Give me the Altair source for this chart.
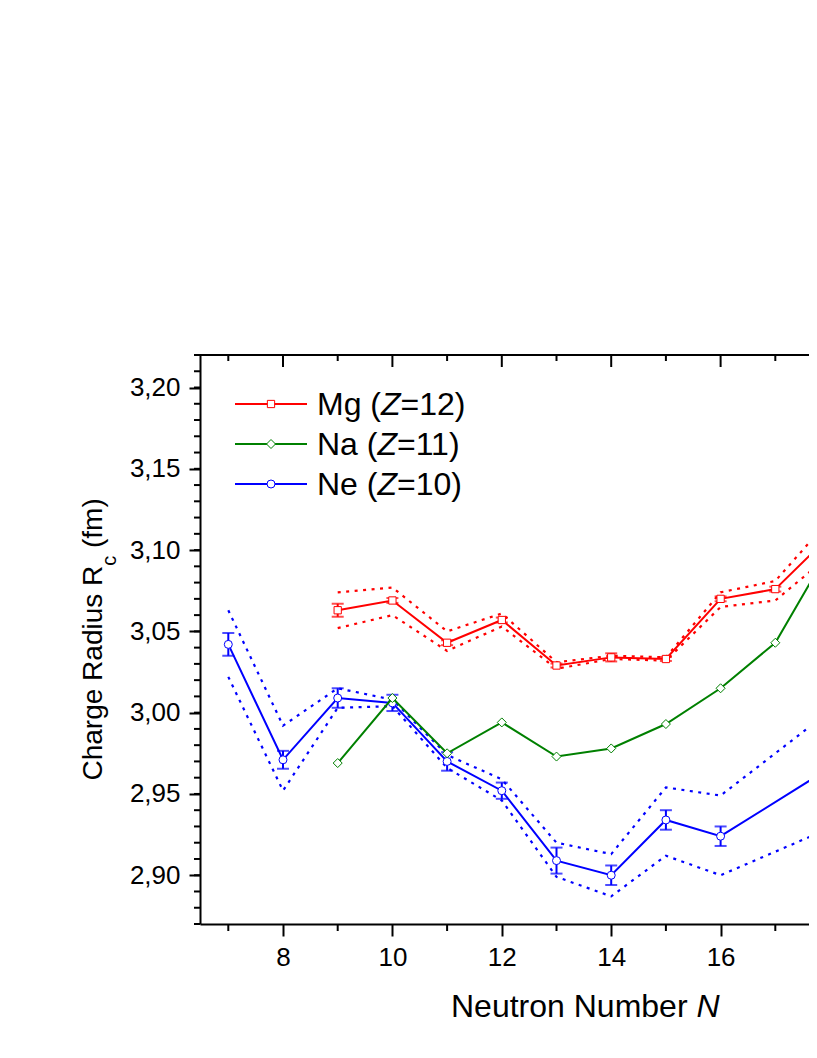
import altair as alt
import pandas as pd

# ---------------- data ----------------
N_mg = [9, 10, 11, 12, 13, 14, 15, 16, 17, 18]
R_mg = [3.063, 3.069, 3.043, 3.057, 3.029, 3.034, 3.033, 3.070, 3.076, 3.109]
E_mg = [0.004, 0.0015, 0.0015, 0.0015, 0.0012, 0.0025, 0.0012, 0.0015, 0.0015, 0.0015]
U_mg = [3.074, 3.077, 3.050, 3.061, 3.031, 3.035, 3.034, 3.074, 3.081, 3.119]
L_mg = [3.052, 3.060, 3.038, 3.053, 3.027, 3.033, 3.032, 3.065, 3.069, 3.097]

N_na = [9, 10, 11, 12, 13, 14, 15, 16, 17, 18]
R_na = [2.969, 3.009, 2.975, 2.994, 2.973, 2.978, 2.993, 3.015, 3.043, 3.101]

N_ne = [7, 8, 9, 10, 11, 12, 13, 14, 15, 16, 18]
R_ne = [3.042, 2.971, 3.009, 3.006, 2.970, 2.952, 2.909, 2.900, 2.934, 2.924, 2.966]
E_ne = [0.007, 0.0055, 0.006, 0.005, 0.0057, 0.005, 0.008, 0.006, 0.006, 0.006, 0.006]
U_ne = [3.063, 2.992, 3.015, 3.008, 2.974, 2.959, 2.920, 2.913, 2.954, 2.949, 3.001]
L_ne = [3.022, 2.952, 3.003, 3.004, 2.966, 2.946, 2.899, 2.887, 2.912, 2.900, 2.929]

X_MAJOR = [8, 10, 12, 14, 16]
X_MINOR = [7, 9, 11, 13, 15, 17]
Y_MAJOR = [2.90, 2.95, 3.00, 3.05, 3.10, 3.15, 3.20]
Y_MINOR = [round(2.87 + 0.01 * i, 2) for i in range(36)]

LEGEND_PRE = ["Mg (", "Na (", "Ne ("]
LEGEND_POST = ["=12)", "=11)", "=10)"]

RED, GREEN, BLUE = "#FF0000", "#008000", "#0000FF"
FONT = "Liberation Sans"

W, H = 609, 569
X_DOM = [6.4826, 17.616]
Y_DOM = [2.87, 3.22]

XS = alt.Scale(domain=X_DOM, nice=False, zero=False)
YS = alt.Scale(domain=Y_DOM, nice=False, zero=False)
X_AXIS = alt.Axis(values=X_MAJOR, tickSize=12, tickWidth=2, domainWidth=2,
                  labelFontSize=26, labelPadding=8, grid=False, format="d",
                  domainColor="black", tickColor="black", labelColor="black",
                  labelFont=FONT)
Y_AXIS = alt.Axis(values=Y_MAJOR, tickSize=11, tickWidth=2, domainWidth=2,
                  labelFontSize=26, labelPadding=9, grid=False,
                  labelExpr="replace(format(datum.value, '.2f'), '.', ',')",
                  domainColor="black", tickColor="black", labelColor="black",
                  labelFont=FONT)


def xe(f="N"):
    return alt.X(f"{f}:Q", scale=XS, axis=X_AXIS, title=None)


def ye(f):
    return alt.Y(f"{f}:Q", scale=YS, axis=Y_AXIS, title=None)


layers = []


def series(N, R, color, shape, size, E=None, U=None, L=None):
    d = {"N": N, "R": R}
    if E is not None:
        d["err"] = E
    if U is not None:
        d["hi"] = U
        d["lo"] = L
    df = pd.DataFrame(d)
    base = alt.Chart(df)
    out = []
    if U is not None:
        for f in ["hi", "lo"]:
            out.append(base.mark_line(color=color, strokeWidth=2.2, strokeDash=[3, 5.5], clip=True)
                       .encode(x=xe(), y=ye(f)))
    out.append(base.mark_line(color=color, strokeWidth=2, clip=True).encode(x=xe(), y=ye("R")))
    if E is not None:
        eb = base.transform_calculate(e_lo="datum.R - datum.err", e_hi="datum.R + datum.err")
        out.append(eb.mark_rule(color=color, strokeWidth=2, clip=True)
                   .encode(x=xe(), y=ye("e_lo"), y2="e_hi:Q"))
        for f in ["e_lo", "e_hi"]:
            out.append(eb.mark_tick(color=color, orient="horizontal", size=12, thickness=2, clip=True)
                       .encode(x=xe(), y=ye(f)))
    out.append(base.mark_point(shape=shape, size=size, filled=True, fill="white", stroke=color,
                               strokeWidth=1, opacity=1, clip=True)
               .encode(x=xe(), y=ye("R")))
    return out


layers += series(N_ne, R_ne, BLUE, "circle", 64, E_ne, U_ne, L_ne)
layers += series(N_na, R_na, GREEN, "diamond", 81)
layers += series(N_mg, R_mg, RED, "square", 53, E_mg, U_mg, L_mg)

# ---------------- axes decorations ----------------
one = alt.Data(values=[{"k": 1}])
layers.append(alt.Chart(pd.DataFrame({"t": X_MINOR})).mark_rule(color="black", strokeWidth=2)
              .encode(x=xe("t"), y=alt.value(H), y2=alt.value(H + 7)))
layers.append(alt.Chart(pd.DataFrame({"t": X_MINOR})).mark_rule(color="black", strokeWidth=2)
              .encode(x=xe("t"), y=alt.value(0), y2=alt.value(6)))
layers.append(alt.Chart(pd.DataFrame({"t": X_MAJOR})).mark_rule(color="black", strokeWidth=2)
              .encode(x=xe("t"), y=alt.value(0), y2=alt.value(12)))
layers.append(alt.Chart(pd.DataFrame({"v": Y_MINOR})).mark_rule(color="black", strokeWidth=2)
              .encode(y=ye("v"), x=alt.value(-6), x2=alt.value(0)))
layers.append(alt.Chart(one).mark_rule(color="black", strokeWidth=2)
              .encode(x=alt.value(-1), x2=alt.value(W), y=alt.value(0)))

# ---------------- axis titles ----------------
def txt(t, x, y, size, style="normal", angle=0, align="left"):
    kw = dict(text=t, font=FONT, fontSize=size, fontStyle=style, align=align,
              baseline="alphabetic", color="black")
    if angle:
        kw["angle"] = angle
    return alt.Chart(one).mark_text(**kw).encode(x=alt.value(x), y=alt.value(y))


layers.append(txt("Neutron Number", 251, 662, 32))
layers.append(txt("N", 251 + 7.669 * 32, 662, 32, "italic"))

yt_start = 425.5
layers.append(txt("Charge Radius R", -98, yt_start, 28, angle=270))
c_start = yt_start - 7.669 * 28
layers.append(txt("c", -84, c_start, 20, angle=270))
layers.append(txt("(fm)", -98, c_start - 0.5 * 20 - 0.278 * 28, 28, angle=270))

# ---------------- legend ----------------
leg_colors = [RED, GREEN, BLUE]
leg_shapes = ["square", "diamond", "circle"]
leg_sizes = [53, 81, 64]
pre_w = [2.0, 1.889, 1.889]
LF = 32
for i in range(3):
    yy = 49 + 40 * i
    layers.append(alt.Chart(one).mark_rule(color=leg_colors[i], strokeWidth=2)
                  .encode(x=alt.value(35), x2=alt.value(107), y=alt.value(yy)))
    layers.append(alt.Chart(one).mark_point(shape=leg_shapes[i], size=leg_sizes[i], filled=True,
                                            fill="white", stroke=leg_colors[i], strokeWidth=1, opacity=1)
                  .encode(x=alt.value(71), y=alt.value(yy)))
    tx = 117
    layers.append(txt(LEGEND_PRE[i], tx, yy + 11, LF))
    zx = tx + pre_w[i] * LF
    layers.append(txt("Z", zx, yy + 11, LF, "italic"))
    layers.append(txt(LEGEND_POST[i], zx + 0.611 * LF, yy + 11, LF))

chart = alt.layer(*layers).properties(
    width=W, height=H,
    padding={"left": 192, "top": 347, "right": 0, "bottom": 103},
    autosize=alt.AutoSizeParams(type="none"),
).configure_view(stroke=None).configure(background="white")

chart.save("out.html", embed_options={"renderer": "svg", "actions": False})
